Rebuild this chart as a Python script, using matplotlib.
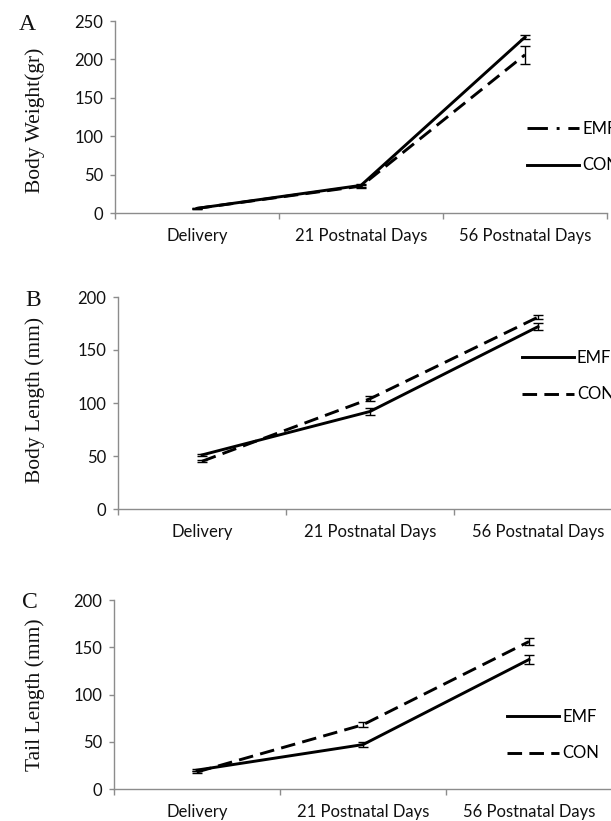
import matplotlib
matplotlib.use("Agg")
import matplotlib.pyplot as plt
from matplotlib.lines import Line2D

# ==========================================
# DATA
# ==========================================

stages = ["Delivery", "21 Postnatal Days", "56 Postnatal Days"]

weight_emf = [6, 35, 206]
weight_emf_err = [0.8, 2, 12]
weight_con = [6, 36, 229]
weight_con_err = [0.8, 2, 3]

body_emf = [51, 92, 172]
body_emf_err = [1, 3, 3.5]
body_con = [45, 104, 181]
body_con_err = [1, 2.5, 2]

tail_emf = [20, 47, 137]
tail_emf_err = [1, 3, 4.5]
tail_con = [18, 68, 156]
tail_con_err = [1, 2.5, 3.5]

# ==========================================
# STYLE
# ==========================================

W, H = 611, 821
tick_font = "Lato"
serif_font = "Liberation Serif"
gray = "#8c8c8c"
text_col = "#111111"
dash = (5, 2.5)
dash_dot = (7, 3, 1, 3)


def px(x, y):
    # pixel position (from top left) -> figure fraction
    return x / W, 1 - y / H


def setup_axis(ax, ymax, ylabel, label_y):
    ax.set_xlim(-0.5, len(stages) - 0.5)
    ax.set_ylim(0, ymax)
    ax.set_yticks(range(0, ymax + 1, 50))
    ax.set_xticks(range(len(stages)))
    ax.set_xticklabels(stages)
    ax.set_xticks([i - 0.5 for i in range(len(stages) + 1)], minor=True)
    ax.tick_params(axis="x", which="major", length=0, pad=11)
    ax.tick_params(axis="x", which="minor", length=4, color=gray, width=1)
    ax.tick_params(axis="y", length=3.5, color=gray, width=1, pad=5)
    for lab in ax.get_xticklabels() + ax.get_yticklabels():
        lab.set_fontfamily(tick_font)
        lab.set_fontsize(12)
        lab.set_color(text_col)
    for s in ["top", "right"]:
        ax.spines[s].set_visible(False)
    for s in ["left", "bottom"]:
        ax.spines[s].set_color(gray)
        ax.spines[s].set_linewidth(1)
    ax.set_ylabel(ylabel, fontfamily=serif_font, fontsize=15.5, color=text_col)
    # same x for every panel's y label
    fx, fy = px(45, label_y)
    ax.yaxis.set_label_coords(fx, fy, transform=ax.figure.transFigure)
    ax.patch.set_alpha(0)


def series(ax, x, y, err, dashes=None):
    kw = dict(color="black", lw=2.1, ecolor="black", elinewidth=1,
              capsize=3.5, capthick=1)
    c = ax.errorbar(x, y, yerr=err, **kw)
    if dashes:
        c[0].set_dashes(dashes)
    return c


def add_legend(ax, handles, labels, x, y):
    fx, fy = px(x, y)
    ax.legend(handles, labels, loc="center left", bbox_to_anchor=(fx, fy),
              bbox_transform=ax.figure.transFigure, frameon=False,
              borderpad=0, borderaxespad=0, handlelength=3.1,
              handletextpad=0.2, labelspacing=1.25,
              prop={"family": tick_font, "size": 12})


fig = plt.figure(figsize=(W / 100, H / 100), dpi=100)
x = list(range(len(stages)))

# ---------------- A ---------------- #
axA = fig.add_axes([115 / W, 1 - 213 / H, 492 / W, 192 / H])
series(axA, x, weight_emf, weight_emf_err, dash)
series(axA, x, weight_con, weight_con_err)
setup_axis(axA, 250, "Body Weight(gr)", 120)
hA = [Line2D([], [], color="black", lw=2.1, dashes=dash_dot),
      Line2D([], [], color="black", lw=2.1)]
add_legend(axA, hA, ["EMF", "CON"], 527, 147)

# ---------------- B ---------------- #
axB = fig.add_axes([118 / W, 1 - 509 / H, 504 / W, 212 / H])
series(axB, x, body_emf, body_emf_err)
series(axB, x, body_con, body_con_err, dash)
setup_axis(axB, 200, "Body Length (mm)", 400)
hB = [Line2D([], [], color="black", lw=2.1),
      Line2D([], [], color="black", lw=2.1, dashes=dash)]
add_legend(axB, hB, ["EMF", "CON"], 522, 376)

# ---------------- C ---------------- #
axC = fig.add_axes([114 / W, 1 - 789 / H, 498 / W, 189 / H])
series(axC, x, tail_emf, tail_emf_err)
series(axC, x, tail_con, tail_con_err, dash)
setup_axis(axC, 200, "Tail Length (mm)", 695)
add_legend(axC, hB, ["EMF", "CON"], 507, 735)

# panel letters
for letter, (lx, ly) in zip("ABC", [(27, 25), (33, 300), (30, 603)]):
    fx, fy = px(lx, ly)
    fig.text(fx, fy, letter, fontfamily=serif_font, fontsize=17,
             ha="center", va="center", color=text_col)

fig.savefig("out.png", dpi=100)
